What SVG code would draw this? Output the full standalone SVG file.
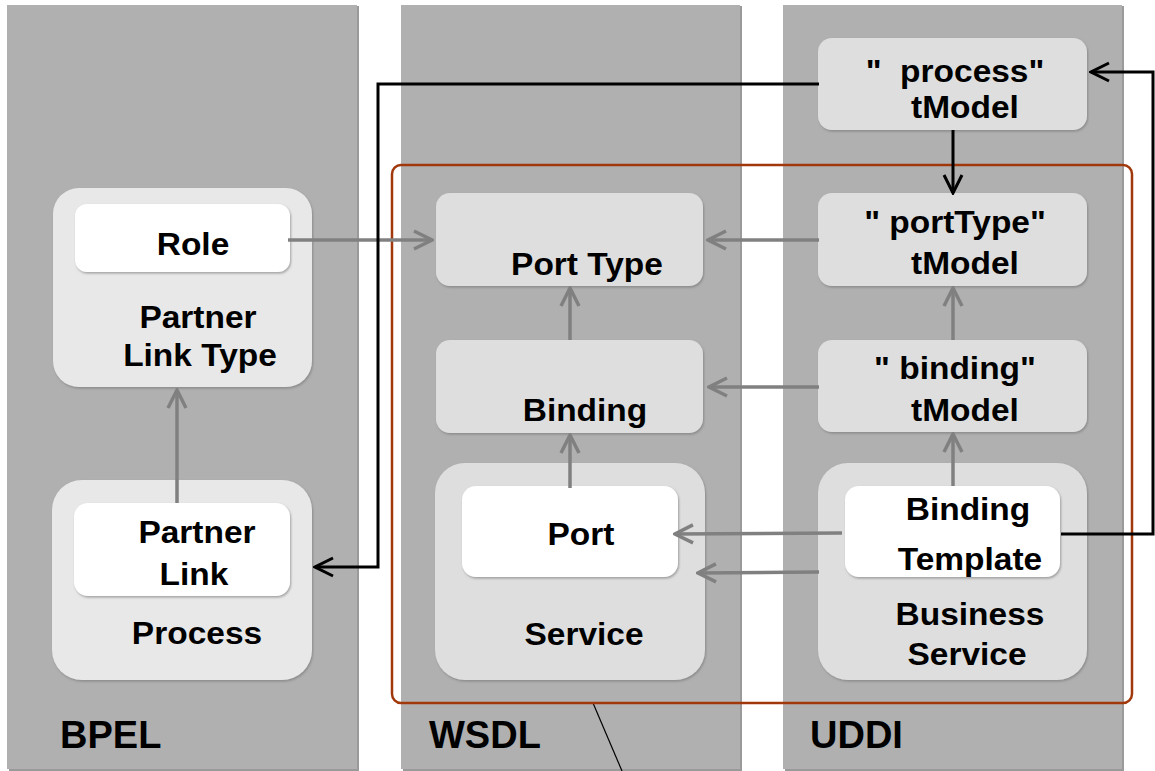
<svg xmlns="http://www.w3.org/2000/svg" width="1155" height="771" viewBox="0 0 1155 771">
<style>
.lane{fill:#b0b0b0}
.lshadow{fill:#9a9a9a}
.outer{fill:#e8e8e8;filter:url(#sh)}
.box{fill:#dedede;filter:url(#sh)}
.inner{fill:#ffffff;filter:url(#sh)}
.t{font-family:"Liberation Sans",Arial,sans-serif;font-weight:bold;font-size:31px;fill:#000;text-anchor:middle;transform-box:fill-box;transform-origin:center;transform:scaleX(1.08)}
.lbl{font-family:"Liberation Sans",Arial,sans-serif;font-weight:bold;font-size:38px;fill:#000}
.g{fill:none;stroke:#808080;stroke-width:3.5;marker-end:url(#ag)}
.b{fill:none;stroke:#000;stroke-width:3;marker-end:url(#ab)}
</style>
<defs>
<filter id="sh" x="-5%" y="-5%" width="110%" height="115%">
<feDropShadow dx="1" dy="1.5" stdDeviation="0.8" flood-color="#707070" flood-opacity="0.6"/>
</filter>
<marker id="ag" viewBox="0 0 22 22" refX="20" refY="11" markerWidth="22" markerHeight="22" markerUnits="userSpaceOnUse" orient="auto">
<path d="M2,2 L20,11 L2,20" fill="none" stroke="#808080" stroke-width="3.5"/>
</marker>
<marker id="ab" viewBox="0 0 22 22" refX="20" refY="11" markerWidth="22" markerHeight="22" markerUnits="userSpaceOnUse" orient="auto">
<path d="M2,2 L20,11 L2,20" fill="none" stroke="#000" stroke-width="3"/>
</marker>
</defs>

<g id="lanes">
<rect class="lshadow" x="9" y="6" width="350" height="765"/>
<rect class="lane" x="7" y="5" width="350" height="764"/>
<rect class="lshadow" x="403" y="6" width="339" height="765"/>
<rect class="lane" x="401" y="5" width="339" height="764"/>
<rect class="lshadow" x="785" y="6" width="339" height="765"/>
<rect class="lane" x="783" y="5" width="339" height="764"/>
<text class="lbl" x="60" y="748">BPEL</text>
<text class="lbl" x="429" y="748">WSDL</text>
<text class="lbl" x="810" y="748">UDDI</text>
</g>

<line x1="593" y1="703" x2="622" y2="771" stroke="#000" stroke-width="1.2"/>

<g id="partnerLinkType">
<rect class="outer" x="53" y="188" width="259" height="199" rx="26"/>
<g id="role">
<rect class="inner" x="75" y="204" width="215" height="68" rx="12"/>
<text class="t" x="193" y="255">Role</text>
</g>
<text class="t" x="198" y="328">Partner</text>
<text class="t" x="200" y="366">Link Type</text>
</g>

<g id="process">
<rect class="outer" x="52" y="480" width="260" height="200" rx="30"/>
<g id="partnerLink">
<rect class="inner" x="74" y="503" width="216" height="93" rx="14"/>
<text class="t" x="197" y="543">Partner</text>
<text class="t" x="194" y="585">Link</text>
</g>
<text class="t" x="197" y="644">Process</text>
</g>

<g id="portType">
<rect class="box" x="436" y="193" width="267" height="93" rx="14"/>
<text class="t" x="587" y="275">Port Type</text>
</g>

<g id="binding">
<rect class="box" x="436" y="340" width="267" height="93" rx="14"/>
<text class="t" x="585" y="421">Binding</text>
</g>

<g id="service">
<rect class="box" x="435" y="463" width="270" height="217" rx="30"/>
<g id="port">
<rect class="inner" x="462" y="486" width="216" height="91" rx="14"/>
<text class="t" x="581" y="545">Port</text>
</g>
<text class="t" x="584" y="645">Service</text>
</g>

<g id="processTModel">
<rect class="box" x="818" y="38" width="269" height="92" rx="14"/>
<text class="t" x="955" y="82">"&#160; process"</text>
<text class="t" x="965" y="118">tModel</text>
</g>

<g id="portTypeTModel">
<rect class="box" x="818" y="193" width="269" height="93" rx="14"/>
<text class="t" x="955" y="233">" portType"</text>
<text class="t" x="965" y="274">tModel</text>
</g>

<g id="bindingTModel">
<rect class="box" x="818" y="340" width="269" height="92" rx="14"/>
<text class="t" x="955" y="379">" binding"</text>
<text class="t" x="965" y="421">tModel</text>
</g>

<g id="businessService">
<rect class="box" x="818" y="463" width="269" height="217" rx="30"/>
<g id="bindingTemplate">
<rect class="inner" x="845" y="486" width="215" height="91" rx="14"/>
<text class="t" x="968" y="520">Binding</text>
<text class="t" x="970" y="570">Template</text>
</g>
<text class="t" x="970" y="625">Business</text>
<text class="t" x="967" y="665">Service</text>
</g>

<rect id="scope" x="392" y="165" width="740" height="538" rx="9" fill="none" stroke="#a0380c" stroke-width="2.5"/>

<g id="connectors">
<path class="g" d="M177,503 L177,390"/>
<path class="g" d="M288,240 L432,240"/>
<path class="g" d="M819,240 L708,240"/>
<path class="g" d="M570,340 L570,288"/>
<path class="g" d="M819,387 L709,387"/>
<path class="g" d="M570,488 L570,435"/>
<path class="g" d="M842,533 L675,534"/>
<path class="g" d="M819,572 L698,573"/>
<path class="g" d="M953,340 L953,288"/>
<path class="g" d="M953,486 L953,434"/>
<path class="b" d="M819,84 L378,84 L378,567 L315,567"/>
<path class="b" d="M1061,534 L1153,534 L1153,72 L1091,72"/>
<path class="b" d="M953,130 L953,193"/>
</g>
</svg>
